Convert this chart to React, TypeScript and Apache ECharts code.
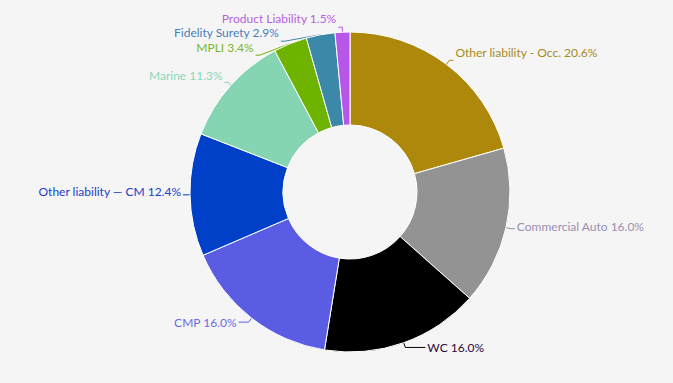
import React, { useEffect, useRef } from "react";
import * as echarts from "echarts";

const categories = [
  "Other liability - Occ.",
  "Commercial Auto",
  "WC",
  "CMP",
  "Other liability — CM",
  "Marine",
  "MPLI",
  "Fidelity Surety",
  "Product Liability",
];
const values = [20.6, 16.0, 16.0, 16.0, 12.4, 11.3, 3.4, 2.9, 1.5];
const colors = [
  "#ad880b",
  "#939393",
  "#000000",
  "#5a5de3",
  "#0040c8",
  "#85d5b3",
  "#6db300",
  "#3c88a8",
  "#b856e8",
];
const labelColors = [
  "#a88a1a",
  "#9a8fb0",
  "#2a0a3a",
  "#6a6ae8",
  "#2040c8",
  "#8ad8b8",
  "#7ab828",
  "#4a80b8",
  "#b860e0",
];

export default function App() {
  const ref = useRef<HTMLDivElement>(null);
  useEffect(() => {
    if (!ref.current) return;
    const chart = echarts.init(ref.current, undefined, { renderer: "svg" });
    const liftBy = [-8, -2, 0, 0, -3, -7, -8, -9, -9];
    const len2 = [4, 4, 20, 10, 4, 4, 4, 4, 4];
    chart.setOption({
      animation: false,
      backgroundColor: "#f5f5f5",
      series: [
        {
          type: "pie",
          center: [350, 192],
          radius: [67, 160],
          startAngle: 90,
          clockwise: true,
          avoidLabelOverlap: true,
          itemStyle: { borderColor: "#ffffff", borderWidth: 1 },
          label: {
            formatter: (p: any) => `${p.name} ${p.value.toFixed(1)}%`,
            fontFamily: "Lato",
            fontSize: 12,
            fontWeight: "normal",
            distanceToLabelLine: 2,
          },
          labelLine: { length: 5, length2: 4, lineStyle: { width: 1 } },
          labelLayout: (p: any) => ({ dy: liftBy[p.dataIndex] }),
          data: categories.map((c, i) => ({
            name: c,
            value: values[i],
            itemStyle: { color: colors[i] },
            label: { color: labelColors[i] },
            labelLine: {
              length2: len2[i],
              lineStyle: { color: colors[i] },
            },
          })),
        },
      ],
    });
    return () => chart.dispose();
  }, []);
  return (
    <div
      ref={ref}
      style={{ position: "fixed", left: 0, top: 0, width: 673, height: 383 }}
    />
  );
}
